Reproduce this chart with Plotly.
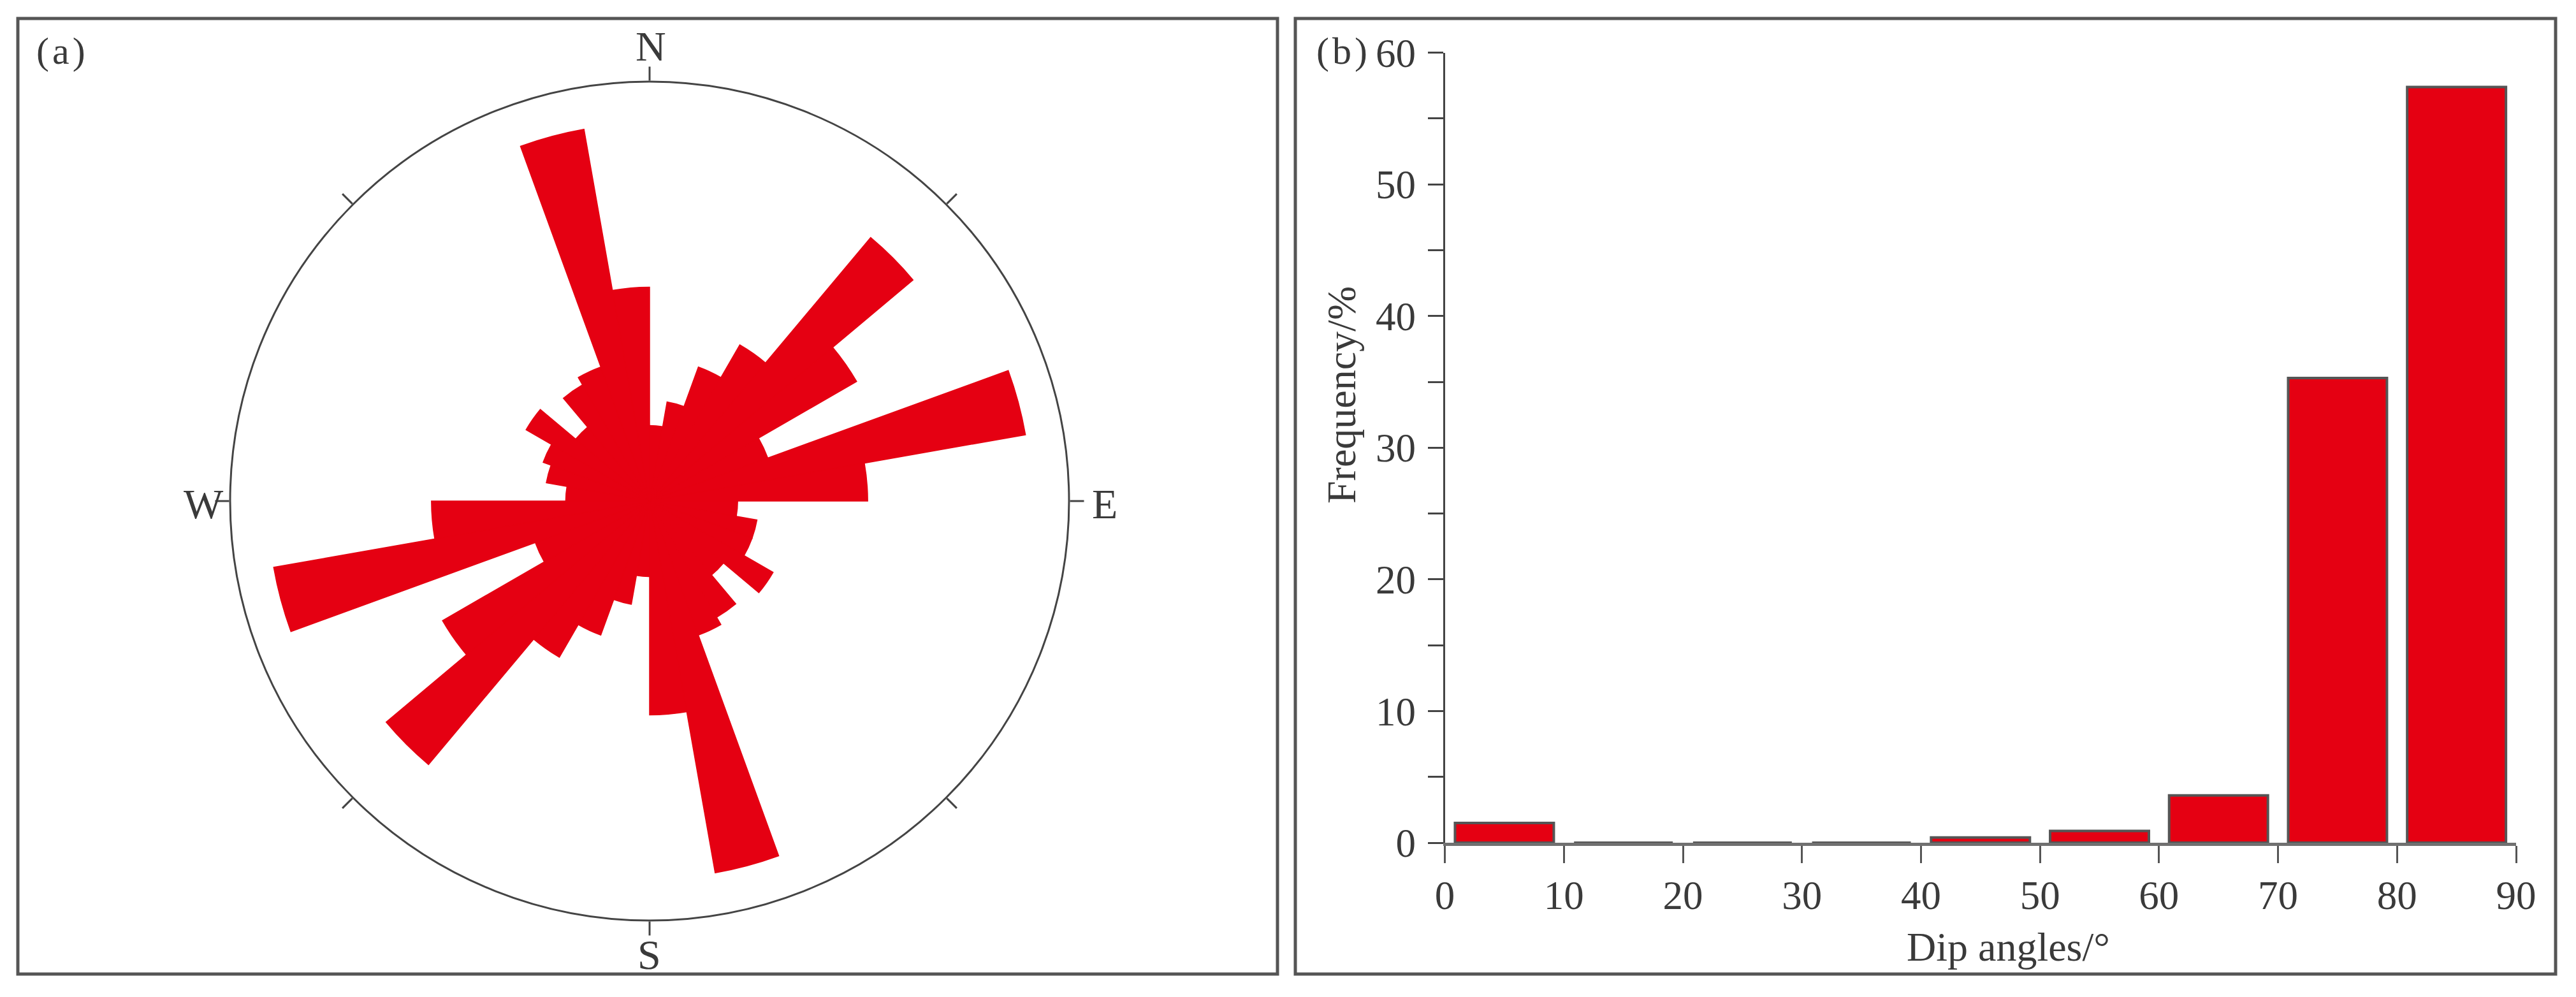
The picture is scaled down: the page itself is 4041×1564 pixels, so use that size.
import plotly.graph_objects as go

# ---------------- data ----------------
# (a) rose diagram of fracture strikes: 10-degree bins (bin centres, degrees clockwise from N)
rose_theta = [5, 15, 25, 35, 45, 55, 65, 75, 85, 95, 105, 115, 125, 135, 145, 155, 165, 175,
              185, 195, 205, 215, 225, 235, 245, 255, 265, 275, 285, 295, 305, 315, 325, 335, 345, 355]
rose_freq = [1.8, 2.4, 3.4, 4.3, 8.2, 5.7, 3.0, 9.1, 5.2, 2.1, 2.6, 2.6, 3.4, 2.3, 3.2, 3.4, 9.0, 5.1,
             1.8, 2.5, 3.4, 4.3, 8.2, 5.7, 2.9, 9.1, 5.2, 2.0, 2.5, 2.7, 3.4, 2.3, 3.2, 3.4, 9.0, 5.1]
compass_ticks = [0, 45, 90, 135, 180, 225, 270, 315]
compass_labels = ["N", "E", "S", "W"]

# (b) histogram of dip angles
dip_centres = [5, 15, 25, 35, 45, 55, 65, 75, 85]
dip_freq = [1.5, 0, 0, 0, 0.4, 0.9, 3.6, 35.3, 57.4]
x_ticks = [0, 10, 20, 30, 40, 50, 60, 70, 80, 90]
y_ticks = [0, 10, 20, 30, 40, 50, 60]

# ---------------- style ----------------
W, H = 4041, 1564
RED = "#E50012"
DARK = "#444444"
TXT = "#3a3a3a"
SERIF = "Liberation Serif, Times New Roman, serif"

def px(x):
    return x / W

def py(y):
    return 1 - y / H

fig = go.Figure()

fig.add_trace(go.Barpolar(
    r=rose_freq, theta=rose_theta, width=10,
    marker=dict(color=RED, line=dict(color=RED, width=1.5)),
    subplot="polar", hoverinfo="skip", showlegend=False,
))

fig.add_trace(go.Bar(
    x=dip_centres, y=dip_freq, width=8.3,
    marker=dict(color=RED, line=dict(color="#555555", width=4)),
    xaxis="x", yaxis="y", showlegend=False,
))

# polar geometry: circle centre (1019, 786), radius 658 px
cx, cy, R = 1019, 786, 658
# compass label positions (pixel centres)
compass_pos = [(1021, 72), (1733, 790), (1018, 1497), (319, 790)]

annotations = [
    dict(text=lab, x=px(x), y=py(y), xref="paper", yref="paper",
         showarrow=False, xanchor="center", yanchor="middle",
         font=dict(family=SERIF, size=66, color=TXT))
    for lab, (x, y) in zip(compass_labels, compass_pos)
]
annotations += [
    dict(text="(\u200aa\u200a)", x=px(95), y=py(80), xref="paper", yref="paper",
         showarrow=False, xanchor="center", yanchor="middle",
         font=dict(family=SERIF, size=60, color=TXT)),
    dict(text="(\u200ab\u200a)", x=px(2105), y=py(80), xref="paper", yref="paper",
         showarrow=False, xanchor="center", yanchor="middle",
         font=dict(family=SERIF, size=60, color=TXT)),
    dict(text="Frequency/%", x=px(2104), y=py(620), xref="paper", yref="paper",
         showarrow=False, xanchor="center", yanchor="middle", textangle=-90,
         font=dict(family=SERIF, size=64, color=TXT)),
    dict(text="Dip angles/°", x=px(3150), y=py(1485), xref="paper", yref="paper",
         showarrow=False, xanchor="center", yanchor="middle",
         font=dict(family=SERIF, size=64, color=TXT)),
]

fig.update_layout(
    width=W, height=H,
    margin=dict(l=0, r=0, t=0, b=0, pad=0, autoexpand=False),
    paper_bgcolor="white", plot_bgcolor="white",
    showlegend=False,
    polar=dict(
        domain=dict(x=[px(cx - R), px(cx + R)], y=[py(cy + R), py(cy - R)]),
        bgcolor="white",
        radialaxis=dict(visible=False, range=[0, 10]),
        angularaxis=dict(
            rotation=90, direction="clockwise",
            showgrid=False, showline=True, linecolor=DARK, linewidth=3,
            ticks="outside", ticklen=22, tickwidth=3, tickcolor=DARK,
            tickmode="array", tickvals=compass_ticks,
            showticklabels=False,
        ),
    ),
    xaxis=dict(
        domain=[px(2266.6), px(3947)], range=[0, 90],
        tickmode="array", tickvals=x_ticks,
        ticks="outside", ticklen=27, tickwidth=3, tickcolor="#555555",
        showline=True, linecolor="#707070", linewidth=5,
        showgrid=False, zeroline=False, automargin=False,
        tickfont=dict(family=SERIF, size=63, color=TXT),
        ticklabelstandoff=-4,
        anchor="y",
    ),
    yaxis=dict(
        domain=[py(1322), py(82.7)], range=[0, 60],
        tickmode="array", tickvals=y_ticks,
        ticks="outside", ticklen=24, tickwidth=3, tickcolor=DARK,
        minor=dict(dtick=5, ticks="outside", ticklen=24, tickwidth=3, tickcolor=DARK),
        showline=True, linecolor=DARK, linewidth=3,
        showgrid=False, zeroline=False, automargin=False,
        tickfont=dict(family=SERIF, size=63, color=TXT),
        ticklabelstandoff=6,
        anchor="x",
    ),
    shapes=[
        dict(type="rect", xref="paper", yref="paper",
             x0=px(28), x1=px(2004), y0=py(1528), y1=py(29),
             line=dict(color="#555555", width=5), fillcolor="rgba(0,0,0,0)", layer="below"),
        dict(type="rect", xref="paper", yref="paper",
             x0=px(2032), x1=px(4009), y0=py(1528), y1=py(29),
             line=dict(color="#555555", width=5), fillcolor="rgba(0,0,0,0)", layer="below"),
    ],
    annotations=annotations,
)

fig.write_html("out.html", config={"displayModeBar": False},
               post_script="document.body.style.margin='0px';")
